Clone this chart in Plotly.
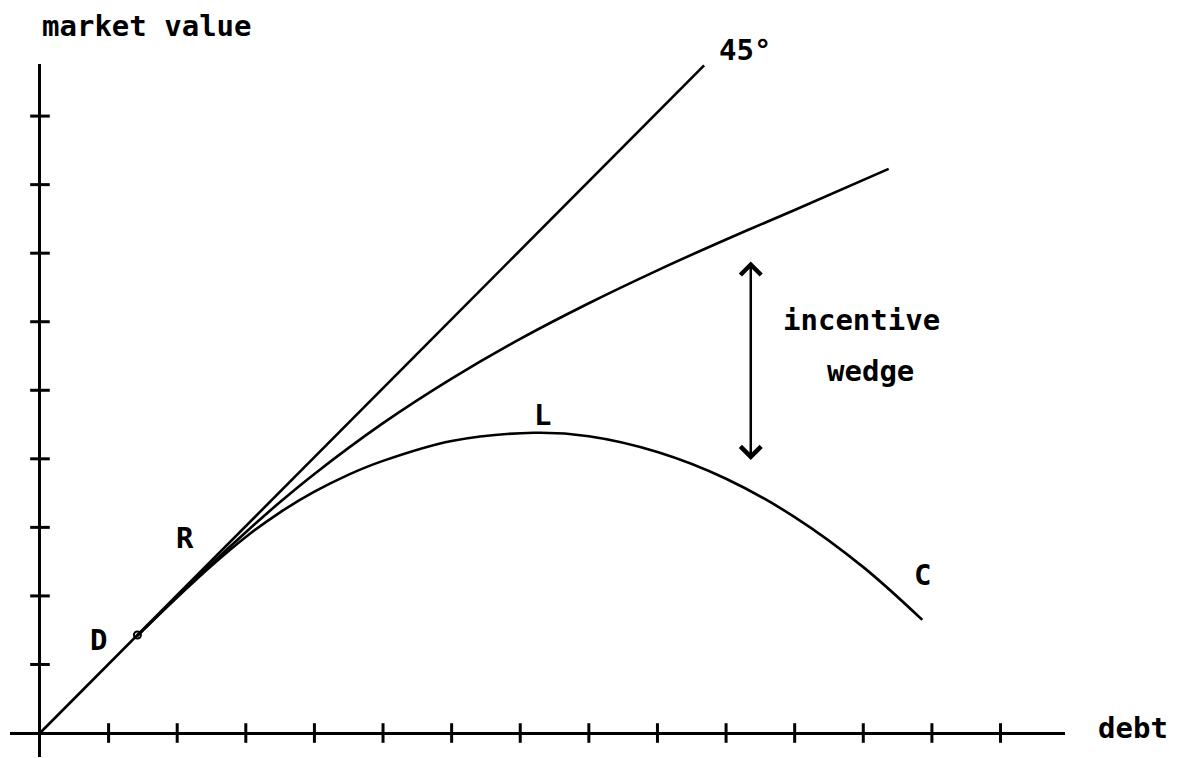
import plotly.graph_objects as go

# ---- data (in axis units: one tick = 1 unit) ----
x_ticks = list(range(1, 15))
y_ticks = list(range(1, 10))

line45_x = [0.0, 9.68]
line45_y = [0.0, 9.74]

upper_x = [1.41, 2.0, 2.5, 3.0, 3.5, 4.0, 5.0, 6.0, 7.0, 8.0, 9.0, 10.0, 11.0, 12.37]
upper_y = [1.41, 1.99, 2.47, 2.93, 3.37, 3.78, 4.52, 5.17, 5.75, 6.27, 6.75, 7.20, 7.63, 8.23]

lower_x = [1.41, 2.0, 2.5, 3.0, 3.5, 4.0, 4.5, 5.0, 6.0, 7.2, 8.0, 9.0, 10.0, 11.0, 12.0, 12.86]
lower_y = [1.41, 1.98, 2.44, 2.86, 3.22, 3.52, 3.77, 3.97, 4.26, 4.38, 4.33, 4.10, 3.71, 3.15, 2.42, 1.65]

point_D = (1.42, 1.43)
wedge_x = 10.36
wedge_top = 6.88
wedge_bottom = 3.96

# axis ranges (data units)
X0, X1 = -0.437, 14.94
Y0, Y1 = -0.350, 9.76

def px(x):
    return (x - X0) / (X1 - X0)

def py(y):
    return (y - Y0) / (Y1 - Y0)

FONT = dict(family="DejaVu Sans Mono", size=29, color="black", weight="bold")
LW = 2.6

fig = go.Figure()
fig.add_trace(go.Scatter(x=line45_x, y=line45_y, mode="lines",
                         line=dict(color="black", width=LW), hoverinfo="skip"))
fig.add_trace(go.Scatter(x=upper_x, y=upper_y, mode="lines",
                         line=dict(color="black", width=LW, shape="spline"), hoverinfo="skip"))
fig.add_trace(go.Scatter(x=lower_x, y=lower_y, mode="lines",
                         line=dict(color="black", width=LW, shape="spline"), hoverinfo="skip"))
# axis tick marks crossing the axes
fig.add_trace(go.Scatter(x=x_ticks, y=[0] * len(x_ticks), mode="markers",
                         marker=dict(symbol="line-ns", size=14, line=dict(color="black", width=3)),
                         hoverinfo="skip"))
fig.add_trace(go.Scatter(x=[0] * len(y_ticks), y=y_ticks, mode="markers",
                         marker=dict(symbol="line-ew", size=14, line=dict(color="black", width=3)),
                         hoverinfo="skip"))
fig.add_trace(go.Scatter(x=[point_D[0]], y=[point_D[1]], mode="markers",
                         marker=dict(symbol="circle-open", size=7, color="black",
                                     line=dict(color="black", width=2)),
                         hoverinfo="skip"))

labels = [
    ("market value", 0.0, 10.31, "left"),
    ("45°", 10.28, 9.97, "center"),
    ("incentive", 11.98, 6.03, "center"),
    ("wedge", 12.11, 5.28, "center"),
    ("L", 7.33, 4.64, "center"),
    ("C", 12.87, 2.31, "center"),
    ("R", 2.11, 2.85, "center"),
    ("D", 0.85, 1.36, "center"),
    ("debt", 15.93, 0.08, "center"),
]
annotations = []
for text, x, y, xa in labels:
    annotations.append(dict(text=text, x=px(x), y=py(y), xref="paper", yref="paper",
                            xanchor=xa, yanchor="middle", showarrow=False, font=FONT))

annotations.append(dict(x=wedge_x, y=wedge_top, ax=wedge_x, ay=wedge_bottom,
                        xref="x", yref="y", axref="x", ayref="y", text="",
                        showarrow=True, arrowside="end+start",
                        arrowhead=4, startarrowhead=4, arrowsize=1.6, startarrowsize=1.6,
                        arrowwidth=2.5, arrowcolor="black", standoff=0, startstandoff=0))

fig.update_layout(
    width=1180, height=758,
    margin=dict(l=2, r=123, t=56, b=9),
    paper_bgcolor="white", plot_bgcolor="white",
    showlegend=False,
    annotations=annotations,
    xaxis=dict(range=[X0, X1], showgrid=False, showticklabels=False, ticks="",
               zeroline=True, zerolinecolor="black", zerolinewidth=3, showline=False),
    yaxis=dict(range=[Y0, Y1], showgrid=False, showticklabels=False, ticks="",
               zeroline=True, zerolinecolor="black", zerolinewidth=3, showline=False),
)

fig.write_html("out.html")
